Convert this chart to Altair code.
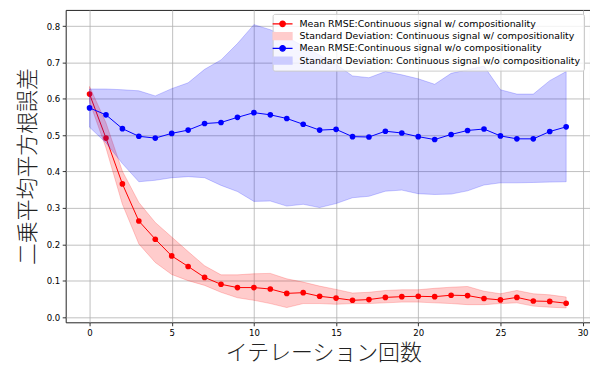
import altair as alt
import pandas as pd

iterations = list(range(30))

red_mean = [0.613, 0.492, 0.366, 0.264, 0.214, 0.168, 0.139, 0.109, 0.090, 0.081,
            0.081, 0.077, 0.065, 0.067, 0.057, 0.052, 0.046, 0.048, 0.054, 0.056,
            0.057, 0.056, 0.060, 0.059, 0.051, 0.047, 0.054, 0.044, 0.043, 0.038]
red_upper = [0.634, 0.534, 0.401, 0.315, 0.260, 0.220, 0.180, 0.141, 0.116, 0.116,
             0.119, 0.120, 0.105, 0.096, 0.085, 0.076, 0.066, 0.068, 0.073, 0.075,
             0.075, 0.079, 0.082, 0.084, 0.071, 0.064, 0.073, 0.064, 0.061, 0.055]
red_lower = [0.592, 0.465, 0.310, 0.201, 0.150, 0.117, 0.100, 0.087, 0.068, 0.053,
             0.046, 0.037, 0.026, 0.037, 0.037, 0.035, 0.037, 0.037, 0.039, 0.041,
             0.041, 0.039, 0.037, 0.034, 0.034, 0.037, 0.039, 0.030, 0.027, 0.025]

blue_mean = [0.575, 0.556, 0.518, 0.497, 0.492, 0.505, 0.514, 0.532, 0.535, 0.549,
             0.562, 0.556, 0.546, 0.530, 0.514, 0.516, 0.496, 0.495, 0.511, 0.506,
             0.496, 0.488, 0.502, 0.513, 0.517, 0.498, 0.490, 0.490, 0.510, 0.523]
blue_upper = [0.627, 0.627, 0.625, 0.622, 0.608, 0.628, 0.644, 0.681, 0.707, 0.752,
              0.804, 0.790, 0.770, 0.745, 0.720, 0.695, 0.663, 0.658, 0.675, 0.666,
              0.655, 0.640, 0.670, 0.680, 0.690, 0.625, 0.613, 0.613, 0.650, 0.675]
blue_lower = [0.522, 0.479, 0.422, 0.372, 0.376, 0.383, 0.386, 0.383, 0.362, 0.345,
              0.318, 0.319, 0.305, 0.310, 0.301, 0.312, 0.328, 0.332, 0.346, 0.349,
              0.339, 0.337, 0.338, 0.347, 0.363, 0.369, 0.369, 0.370, 0.371, 0.372]

legend_labels = [
    "Mean RMSE:Continuous signal w/ compositionality",
    "Standard Deviation: Continuous signal w/ compositionality",
    "Mean RMSE:Continuous signal w/o compositionality",
    "Standard Deviation: Continuous signal w/o compositionality",
]
legend_fills = ["#ff0000", "#ffcccc", "#0000ff", "#ccccff"]
legend_strokes = ["#ff0000", "#ffcccc", "#0000ff", "#ccccff"]
line_symbol = "M-2,0L2,0M0.56,0A0.56,0.56,0,1,1,-0.56,0A0.56,0.56,0,1,1,0.56,0Z"
patch_symbol = "M-1.9,-0.7L1.9,-0.7L1.9,0.7L-1.9,0.7Z"
legend_shapes = [line_symbol, patch_symbol, line_symbol, patch_symbol]

x_ticks = [0, 5, 10, 15, 20, 25, 30]
y_ticks = [0.0, 0.1, 0.2, 0.3, 0.4, 0.5, 0.6, 0.7, 0.8]

df = pd.DataFrame({
    "iteration": iterations,
    "red_mean": red_mean, "red_upper": red_upper, "red_lower": red_lower,
    "blue_mean": blue_mean, "blue_upper": blue_upper, "blue_lower": blue_lower,
})
legend_df = pd.DataFrame({"label": legend_labels})

x_scale = alt.Scale(domain=[-1.45, 30.45], nice=False, zero=False)
y_scale = alt.Scale(domain=[-0.0145, 0.8445], nice=False, zero=False)

common_axis = dict(
    labelFont="DejaVu Sans", labelFontSize=8.6, labelColor="black",
    tickColor="black", tickSize=3.5, tickWidth=0.8,
    domain=False, gridColor="#b0b0b0", gridWidth=0.8,
    titleFont="Noto Sans CJK JP", titleFontSize=22, titleFontWeight=300,
    titleColor="#222222", titleAlign="center", titleBaseline="middle",
)
x_axis = alt.Axis(values=x_ticks, format="d", title="イテレーション回数",
                  labelPadding=2.5, titleX=259, titleY=30, **common_axis)
y_axis = alt.Axis(values=y_ticks, format=".1f", title="二乗平均平方根誤差",
                  labelPadding=2.5, titleX=-38, titleY=157, titleAngle=270, **common_axis)


def xe():
    return alt.X("iteration:Q", scale=x_scale, axis=x_axis)


def ye(field):
    return alt.Y(f"{field}:Q", scale=y_scale, axis=y_axis)


base = alt.Chart(df)

red_line = base.mark_line(color="#ff0000", strokeWidth=1).encode(x=xe(), y=ye("red_mean"))
red_pts = base.mark_circle(color="#ff0000", size=32, opacity=1).encode(x=xe(), y=ye("red_mean"))
red_band = base.mark_area(color="#ff0000", fillOpacity=0.2, stroke="#ff0000",
                          strokeOpacity=0.2, strokeWidth=1).encode(
    x=xe(), y=ye("red_lower"), y2="red_upper:Q")
blue_line = base.mark_line(color="#0000ff", strokeWidth=1).encode(x=xe(), y=ye("blue_mean"))
blue_pts = base.mark_circle(color="#0000ff", size=32, opacity=1).encode(x=xe(), y=ye("blue_mean"))
blue_band = base.mark_area(color="#0000ff", fillOpacity=0.2, stroke="#0000ff",
                           strokeOpacity=0.2, strokeWidth=1).encode(
    x=xe(), y=ye("blue_lower"), y2="blue_upper:Q")

leg = alt.Legend(
    title=None, orient="none", legendX=208, legendY=4,
    labelFont="DejaVu Sans", labelFontSize=9.45, labelColor="black", labelLimit=0,
    symbolSize=100, symbolStrokeWidth=1.2, labelOffset=11, rowPadding=0.3,
    padding=4, fillColor="rgba(255,255,255,0.8)", strokeColor="#cccccc",
    cornerRadius=2,
)
legend_layer = alt.Chart(legend_df).mark_point(filled=True, opacity=1).encode(
    fill=alt.Fill("label:N", scale=alt.Scale(domain=legend_labels, range=legend_fills), legend=leg),
    stroke=alt.Stroke("label:N", scale=alt.Scale(domain=legend_labels, range=legend_strokes), legend=leg),
    shape=alt.Shape("label:N", scale=alt.Scale(domain=legend_labels, range=legend_shapes), legend=leg),
).transform_filter("false")

chart = alt.layer(
    red_line, red_pts, red_band, blue_line, blue_pts, blue_band, legend_layer
).properties(
    width=527, height=314,
    autosize=alt.AutoSizeParams(type="none"),
    padding={"left": 58, "top": 1, "right": 0, "bottom": 42},
).configure_view(stroke="#222222", strokeWidth=1)

chart.save("out.html", embed_options={"renderer": "svg", "actions": False})
